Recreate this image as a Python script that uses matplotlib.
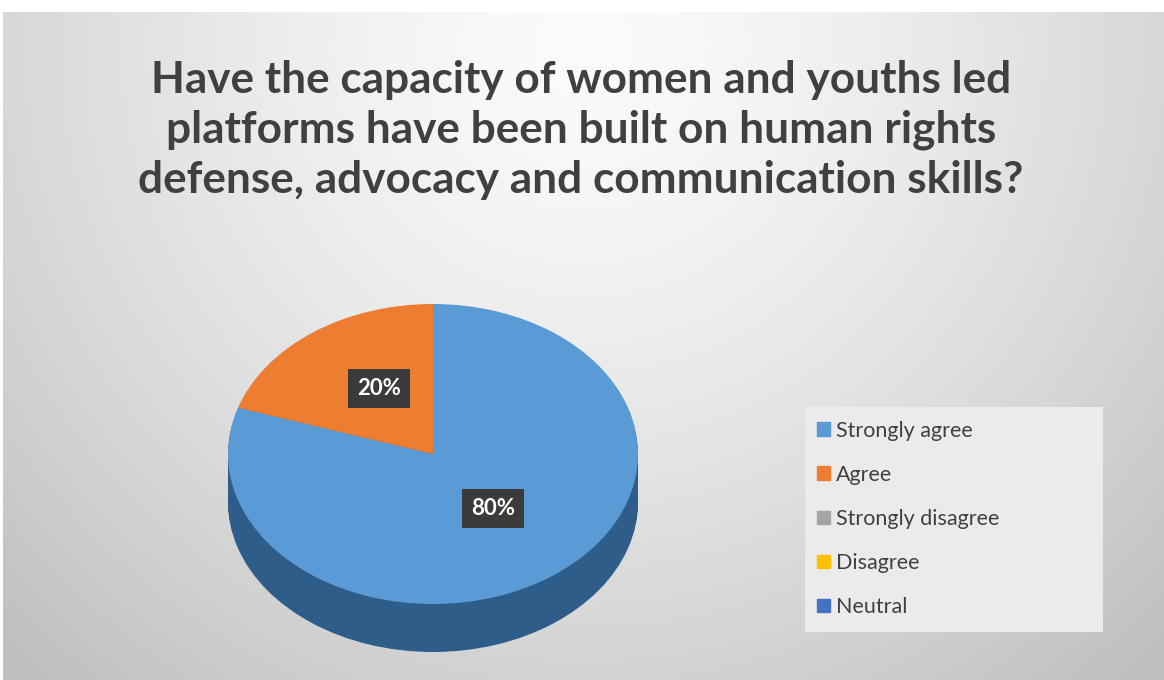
import numpy as np
import matplotlib
matplotlib.use("Agg")
import matplotlib.pyplot as plt
from matplotlib.patches import Patch, Rectangle

# survey answers
labels = ["Strongly agree", "Agree", "Strongly disagree", "Disagree", "Neutral"]
shares = [80, 20, 0, 0, 0]
colors = ["#5b9bd5", "#ed7d31", "#a5a5a5", "#ffc000", "#4472c4"]
side_colors = ["#2f5d8a", "#b15a20", "#7c7c7c", "#bf9000", "#335593"]
title = ("Have the capacity of women and youths led\n"
         "platforms have been built on human rights\n"
         "defense, advocacy and communication skills?")

W, H = 1164, 680
fig = plt.figure(figsize=(W / 100, H / 100), dpi=100)
fig.patch.set_facecolor("white")


def fx(px):
    return px / W


def fy(py):
    # pixel row from top -> figure fraction from bottom
    return 1 - py / H


# grey radial background panel
bg = fig.add_axes([fx(3), 0, fx(W - 3), fy(12)])
yy, xx = np.mgrid[0:1:300j, 0:1:500j]
d = np.sqrt(((xx - 0.5) / 0.72) ** 2 + ((yy - 0.05) / 1.25) ** 2)
d = np.clip(d, 0, 1) ** 1.4
light = np.array([0.985, 0.985, 0.985])
dark = np.array([0.75, 0.75, 0.75])
img = light[None, None, :] * (1 - d[..., None]) + dark[None, None, :] * d[..., None]
bg.imshow(img, aspect="auto", extent=[0, 1, 1, 0])
bg.set_axis_off()

fig.text(0.499, fy(130), title, ha="center", va="center", fontsize=31.8,
         fontweight="bold", color="#404040", family="Lato", linespacing=1.3)

# 3D-looking pie: stacked darker copies form the side, top face on last
rx, ry, depth = 205, 150, 48
cy = 454
ax = fig.add_axes([fx(433 - rx), fy(cy + ry + depth), fx(2 * rx),
                   (2 * ry + depth) / H])
dz = depth / ry
for z in np.linspace(dz, 0.0, 40)[:-1]:
    ax.pie(shares, colors=side_colors, startangle=90, counterclock=False,
           center=(0, -z), wedgeprops=dict(linewidth=0))


def pct(v):
    return f"{v:.0f}%" if v > 0 else ""


wedges, _, autotexts = ax.pie(
    shares, colors=colors, startangle=90, counterclock=False,
    autopct=pct, pctdistance=0.5, wedgeprops=dict(linewidth=0))
for t in autotexts:
    t.set(color="white", fontsize=16, fontweight="bold", family="Lato")
    t.set_bbox(dict(boxstyle="square,pad=0.4", fc="#3b3b3b", ec="none"))
autotexts[0].set_y(autotexts[0].get_position()[1] + 0.04)
autotexts[1].set_position((autotexts[1].get_position()[0] + 0.03,
                           autotexts[1].get_position()[1] + 0.03))
ax.set_aspect("auto")
ax.set_xlim(-1, 1)
ax.set_ylim(-1 - dz, 1)
ax.set_axis_off()

# legend panel
fig.patches.append(Rectangle((fx(805), fy(632)), fx(298), 225 / H,
                             transform=fig.transFigure, fc="#ebebeb",
                             ec="none", zorder=1))
handles = [Patch(color=c, label=l) for c, l in zip(colors, labels)]
fig.legend(handles=handles, loc="upper left",
           bbox_to_anchor=(fx(806), fy(410)), frameon=False,
           prop=dict(family="Lato", size=15.5), labelcolor="#404040",
           handlelength=0.6, handleheight=0.6, handletextpad=0.3,
           labelspacing=1.12, borderpad=0)

fig.savefig("out.png", dpi=100)
